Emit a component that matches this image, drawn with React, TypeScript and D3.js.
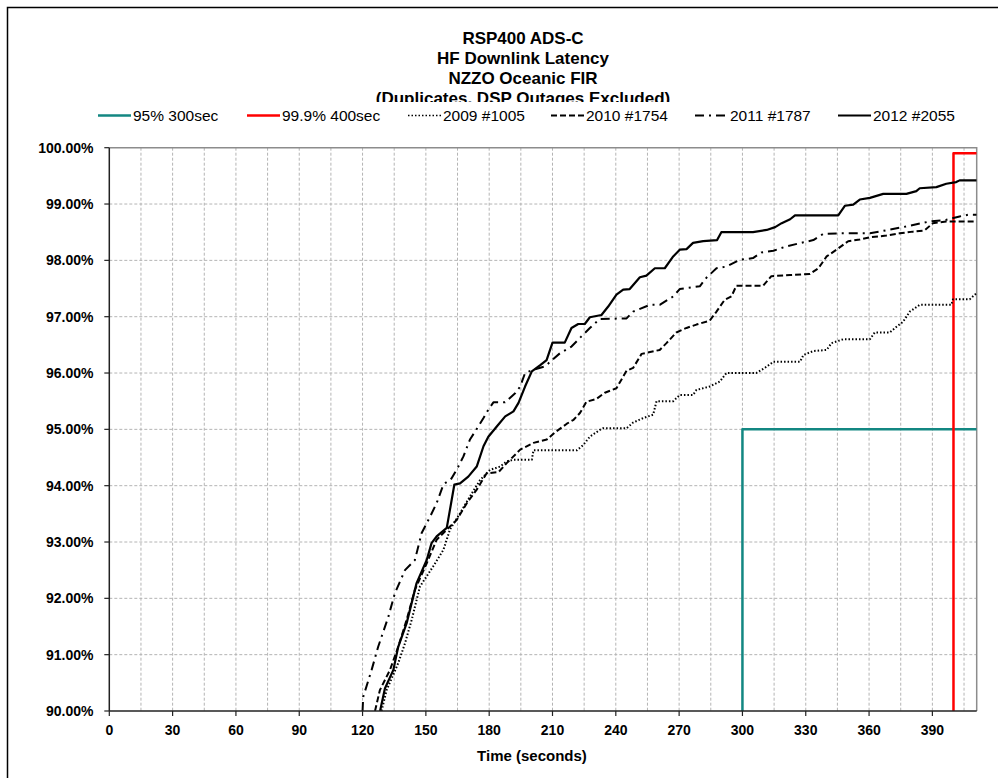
import React, { useEffect, useRef } from "react";
import * as d3 from "d3";

// title lines
const titleLines = [
  "RSP400 ADS-C",
  "HF Downlink Latency",
  "NZZO Oceanic FIR",
  "(Duplicates, DSP Outages Excluded)",
];

// x ticks (seconds) and y ticks (percent)
const xTicks = [0, 30, 60, 90, 120, 150, 180, 210, 240, 270, 300, 330, 360, 390];
const xGrid = [15, 30, 45, 60, 75, 90, 105, 120, 135, 150, 165, 180, 195, 210, 225, 240, 255, 270, 285, 300, 315, 330, 345, 360, 375, 390, 405];
const yTicks = [90, 91, 92, 93, 94, 95, 96, 97, 98, 99, 100];

// requirement lines
const req95Time = [300, 300, 411];
const req95Pct = [90, 95, 95];
const req999Time = [400, 400, 411];
const req999Pct = [90, 99.9, 99.9];

// 2009 #1005
const t2009 = [129, 131.4, 136.9, 140.1, 143.3, 147.2, 153.5, 158.3, 161.4, 166.2, 170.9, 175.7, 180.4, 185.2, 188.3, 191.5, 200.2, 201, 221.6, 224.5, 227.7, 232.4, 234, 245.1, 248.2, 253, 257.7, 259.3, 267.2, 270.3, 276.6, 278.2, 284.5, 289.3, 292.4, 306.6, 311.4, 314.7, 327.3, 328.9, 333.6, 339.9, 342.2, 347.8, 360.4, 362.7, 369.8, 373, 376.1, 379.3, 384, 399, 399.8, 407.7, 411];
const p2009 = [90, 90.37, 90.85, 91.2, 91.62, 92.21, 92.57, 92.86, 93.22, 93.51, 93.81, 94.1, 94.28, 94.34, 94.43, 94.46, 94.46, 94.63, 94.63, 94.72, 94.87, 94.99, 95.02, 95.02, 95.12, 95.2, 95.26, 95.5, 95.5, 95.61, 95.61, 95.7, 95.76, 95.85, 96.0, 96.0, 96.11, 96.2, 96.2, 96.32, 96.39, 96.41, 96.53, 96.6, 96.6, 96.72, 96.72, 96.82, 96.91, 97.09, 97.21, 97.21, 97.31, 97.31, 97.42];

// 2010 #1754
const t2010 = [125.9, 128.2, 133, 136.9, 140.9, 144.8, 150.4, 155.1, 159.9, 164.6, 169.4, 174.1, 178.8, 184.4, 188.3, 194.7, 201, 207.3, 211.3, 216.8, 220, 223, 226.1, 230.8, 234.8, 240.3, 245.1, 248.2, 252.2, 260.8, 264, 268.7, 273.5, 278.2, 284.5, 287.7, 291.6, 294.8, 297.1, 309.8, 313.7, 322.6, 332, 336, 339.9, 344.6, 350.1, 355.6, 360.4, 368.2, 374.5, 380.8, 386.3, 390.2, 396.6, 411];
const p2010 = [90, 90.37, 90.73, 91.14, 91.62, 92.15, 92.62, 93.04, 93.22, 93.39, 93.69, 93.93, 94.22, 94.24, 94.4, 94.64, 94.76, 94.82, 94.95, 95.1, 95.17, 95.29, 95.49, 95.54, 95.65, 95.73, 96.04, 96.09, 96.34, 96.41, 96.53, 96.72, 96.8, 96.86, 96.93, 97.09, 97.3, 97.36, 97.55, 97.55, 97.72, 97.74, 97.76, 97.86, 98.07, 98.19, 98.34, 98.37, 98.41, 98.44, 98.48, 98.51, 98.53, 98.66, 98.69, 98.69];

// 2011 #1787
const t2011 = [120, 120.3, 124.3, 127.4, 132.2, 135.3, 140.1, 144.8, 148, 152, 155.1, 158.3, 162.2, 165.4, 167.8, 170.9, 173.3, 177.3, 179.6, 182, 187.5, 192.3, 194.7, 197, 201, 206.5, 213.5, 219, 223.7, 227.7, 232.4, 245.1, 248.2, 256.1, 260.8, 267.2, 270.3, 279.8, 282.9, 287.7, 292.4, 298.7, 305, 309, 314.7, 321, 328.9, 333.6, 338.3, 346.2, 360.4, 369, 376.1, 388.7, 396.6, 402.9, 406.9, 411];
const p2011 = [90, 90.25, 90.73, 91.14, 91.67, 92.09, 92.5, 92.68, 93.16, 93.45, 93.69, 94.02, 94.13, 94.34, 94.52, 94.82, 94.96, 95.2, 95.35, 95.48, 95.48, 95.64, 95.76, 96.0, 96.06, 96.12, 96.35, 96.47, 96.65, 96.8, 96.96, 96.97, 97.09, 97.21, 97.21, 97.36, 97.49, 97.54, 97.69, 97.86, 97.89, 98.01, 98.04, 98.14, 98.17, 98.25, 98.32, 98.36, 98.47, 98.48, 98.48, 98.54, 98.59, 98.69, 98.72, 98.78, 98.81, 98.81];

// 2012 #2055
const t2012 = [128.3, 130.6, 134.6, 136.9, 140.9, 145.6, 150.4, 152.7, 155.1, 159.9, 161.4, 163.5, 166.2, 170.1, 174.1, 177.3, 179.6, 183.6, 187.6, 191.5, 193.9, 197, 200.2, 204.2, 207.2, 210, 215.8, 219, 222.2, 225.3, 227.7, 233.2, 236.4, 240.3, 243.5, 246.6, 251.4, 254.5, 258.5, 263.2, 267.2, 270.3, 273.5, 276.6, 281.4, 288, 290, 305, 311.5, 315.5, 318.6, 322.6, 324.9, 345.4, 348.6, 352.5, 355.6, 360.4, 366.7, 377.7, 382.4, 384, 391.9, 396.6, 401.3, 402.9, 411];
const p2012 = [90, 90.4, 90.73, 91.14, 91.56, 92.27, 92.68, 92.98, 93.1, 93.25, 93.57, 94.02, 94.04, 94.16, 94.34, 94.7, 94.87, 95.05, 95.23, 95.32, 95.47, 95.76, 96.03, 96.14, 96.23, 96.54, 96.54, 96.8, 96.87, 96.87, 96.99, 97.03, 97.18, 97.39, 97.48, 97.49, 97.7, 97.73, 97.86, 97.86, 98.07, 98.19, 98.2, 98.31, 98.34, 98.36, 98.5, 98.5, 98.54, 98.59, 98.66, 98.73, 98.8, 98.8, 98.97, 98.99, 99.08, 99.11, 99.18, 99.18, 99.23, 99.28, 99.3, 99.36, 99.39, 99.42, 99.42];

const seriesNames = ["95% 300sec", "99.9% 400sec", "2009 #1005", "2010 #1754", "2011 #1787", "2012 #2055"];

const W = 998;
const H = 778;
const FONT = "'Liberation Sans', Arial, sans-serif";

const App: React.FC = () => {
  const svgRef = useRef<SVGSVGElement>(null);

  useEffect(() => {
    if (!svgRef.current) return;
    const svg = d3.select(svgRef.current);
    svg.selectAll("*").remove();

    const left = 109.3;
    const right = 976.7;
    const top = 147.7;
    const bottom = 711;

    const x = d3.scaleLinear().domain([0, 411]).range([left, right]);
    const y = d3.scaleLinear().domain([90, 100]).range([bottom, top]);

    // outer border
    svg
      .append("rect")
      .attr("x", 7.5)
      .attr("y", 7.5)
      .attr("width", W)
      .attr("height", H)
      .attr("fill", "white")
      .attr("stroke", "black")
      .attr("stroke-width", 1.5);

    // title
    svg
      .append("g")
      .selectAll("text")
      .data(titleLines)
      .enter()
      .append("text")
      .attr("x", 523)
      .attr("y", (d, i) => 43.5 + i * 20)
      .attr("text-anchor", "middle")
      .style("font-family", FONT)
      .style("font-size", "17px")
      .style("font-weight", "bold")
      .text((d) => d);

    // legend (covers the bottom of the last title line)
    const legend = svg.append("g");
    legend
      .append("rect")
      .attr("x", 90)
      .attr("y", 102)
      .attr("width", 880)
      .attr("height", 24)
      .attr("fill", "white");

    const legendX = [98, 247, 408, 551, 695, 838];
    const legendStyles = [
      { color: "#138782", width: 2.5, dash: "" },
      { color: "#ff0000", width: 2.5, dash: "" },
      { color: "#000", width: 1.5, dash: "1.5,2" },
      { color: "#000", width: 2, dash: "6,3" },
      { color: "#000", width: 2, dash: "9,5,2,5" },
      { color: "#000", width: 2.2, dash: "" },
    ];
    seriesNames.forEach((name, i) => {
      const st = legendStyles[i];
      legend
        .append("line")
        .attr("x1", legendX[i])
        .attr("x2", legendX[i] + 33)
        .attr("y1", 115.5)
        .attr("y2", 115.5)
        .attr("stroke", st.color)
        .attr("stroke-width", st.width)
        .attr("stroke-dasharray", st.dash || null);
      legend
        .append("text")
        .attr("x", legendX[i] + 35)
        .attr("y", 120.5)
        .style("font-family", FONT)
        .style("font-size", "15.5px")
        .text(name);
    });

    // gridlines
    const grid = svg.append("g");
    grid
      .selectAll(".vg")
      .data(xGrid)
      .enter()
      .append("line")
      .attr("x1", (d) => x(d))
      .attr("x2", (d) => x(d))
      .attr("y1", top)
      .attr("y2", bottom)
      .attr("stroke", "#b4b4b4")
      .attr("stroke-width", 1)
      .attr("stroke-dasharray", "3,2");
    grid
      .selectAll(".hg")
      .data(yTicks.slice(1, -1))
      .enter()
      .append("line")
      .attr("x1", left)
      .attr("x2", right)
      .attr("y1", (d) => y(d))
      .attr("y2", (d) => y(d))
      .attr("stroke", "#b4b4b4")
      .attr("stroke-width", 1)
      .attr("stroke-dasharray", "3,2");

    // plot frame: top/right gray
    svg
      .append("path")
      .attr("d", `M${left},${top}H${right}V${bottom}`)
      .attr("fill", "none")
      .attr("stroke", "#8c8c8c")
      .attr("stroke-width", 1.5);

    // clip
    svg
      .append("clipPath")
      .attr("id", "plotclip")
      .append("rect")
      .attr("x", left)
      .attr("y", top - 3)
      .attr("width", right - left)
      .attr("height", bottom - top + 3);

    const plot = svg.append("g").attr("clip-path", "url(#plotclip)");

    const line = d3
      .line<[number, number]>()
      .x((d) => x(d[0]))
      .y((d) => y(d[1]));

    const zip = (ts: number[], ps: number[]) =>
      ts.map((t, i) => [t, ps[i]] as [number, number]);

    const seriesData = [
      zip(req95Time, req95Pct),
      zip(req999Time, req999Pct),
      zip(t2009, p2009),
      zip(t2010, p2010),
      zip(t2011, p2011),
      zip(t2012, p2012),
    ];

    seriesData.forEach((pts, i) => {
      const st = legendStyles[i];
      plot
        .append("path")
        .attr("d", line(pts) || "")
        .attr("fill", "none")
        .attr("stroke", st.color)
        .attr("stroke-width", i === 2 ? 2 : st.width)
        .attr("stroke-dasharray", st.dash || null)
        .attr("stroke-linejoin", "round");
    });

    // axes
    const axisG = svg.append("g");
    axisG
      .append("line")
      .attr("x1", left)
      .attr("x2", left)
      .attr("y1", top)
      .attr("y2", bottom)
      .attr("stroke", "#222")
      .attr("stroke-width", 1.5);
    axisG
      .append("line")
      .attr("x1", left)
      .attr("x2", right)
      .attr("y1", bottom)
      .attr("y2", bottom)
      .attr("stroke", "#222")
      .attr("stroke-width", 1.5);

    // y ticks
    axisG
      .selectAll(".yt")
      .data(yTicks)
      .enter()
      .append("line")
      .attr("x1", left - 5)
      .attr("x2", left)
      .attr("y1", (d) => y(d))
      .attr("y2", (d) => y(d))
      .attr("stroke", "#222")
      .attr("stroke-width", 1.2);
    axisG
      .selectAll(".yl")
      .data(yTicks)
      .enter()
      .append("text")
      .attr("x", 93.5)
      .attr("y", (d) => y(d) + 5)
      .attr("text-anchor", "end")
      .style("font-family", FONT)
      .style("font-size", "14px")
      .style("font-weight", "bold")
      .text((d) => d3.format(".2f")(d) + "%");

    // x ticks
    axisG
      .selectAll(".xt")
      .data(xTicks)
      .enter()
      .append("line")
      .attr("x1", (d) => x(d))
      .attr("x2", (d) => x(d))
      .attr("y1", bottom)
      .attr("y2", bottom + 5)
      .attr("stroke", "#222")
      .attr("stroke-width", 1.2);
    axisG
      .selectAll(".xl")
      .data(xTicks)
      .enter()
      .append("text")
      .attr("x", (d) => x(d))
      .attr("y", 734.5)
      .attr("text-anchor", "middle")
      .style("font-family", FONT)
      .style("font-size", "14px")
      .style("font-weight", "bold")
      .text((d) => String(d));

    svg
      .append("text")
      .attr("x", 532)
      .attr("y", 761)
      .attr("text-anchor", "middle")
      .style("font-family", FONT)
      .style("font-size", "15px")
      .style("font-weight", "bold")
      .text("Time (seconds)");
  }, []);

  return (
    <div style={{ position: "absolute", left: 0, top: 0, width: W, height: H, overflow: "hidden", background: "white" }}>
      <svg ref={svgRef} width={W} height={H} />
    </div>
  );
};

export default App;
